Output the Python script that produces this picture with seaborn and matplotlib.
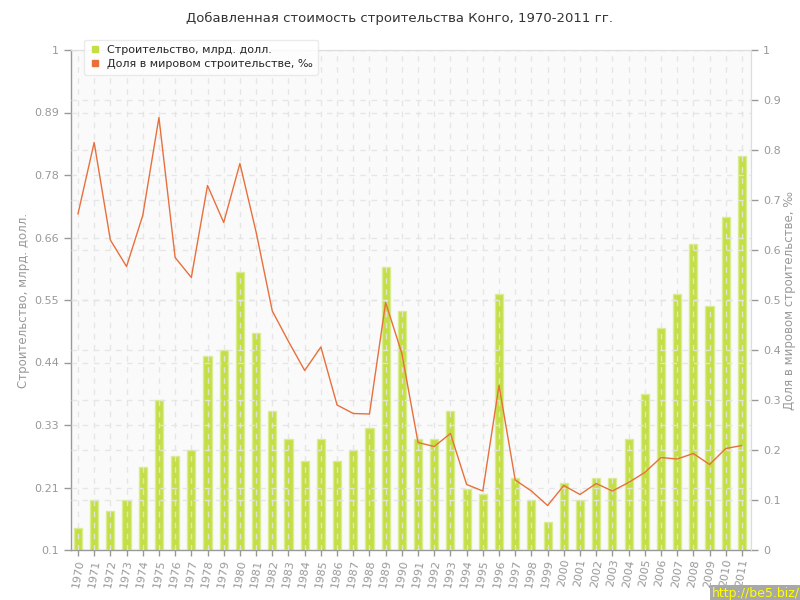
"""
Construction value added, Congo 1970-2011: bars (bn USD) + share line (per mille).
"""

import numpy as np
import pandas as pd
import matplotlib
matplotlib.use("Agg")
import matplotlib.pyplot as plt
from matplotlib.lines import Line2D
import seaborn as sns

years = list(range(1970, 2012))

construction = [0.14, 0.19, 0.17, 0.19, 0.25, 0.37, 0.27, 0.28, 0.45, 0.46,
                0.60, 0.49, 0.35, 0.30, 0.26, 0.30, 0.26, 0.28, 0.32, 0.61,
                0.53, 0.30, 0.30, 0.35, 0.21, 0.20, 0.56, 0.23, 0.19, 0.15,
                0.22, 0.19, 0.23, 0.23, 0.30, 0.38, 0.50, 0.56, 0.65, 0.54,
                0.70, 0.81]

share = [0.672, 0.815, 0.620, 0.567, 0.669, 0.865, 0.585, 0.545, 0.729, 0.655,
         0.773, 0.636, 0.478, 0.417, 0.359, 0.406, 0.290, 0.273, 0.272, 0.495,
         0.393, 0.215, 0.207, 0.233, 0.131, 0.118, 0.329, 0.140, 0.118, 0.089,
         0.129, 0.111, 0.133, 0.118, 0.135, 0.155, 0.185, 0.182, 0.193, 0.171,
         0.203, 0.209]

left_ticks = [0.1, 0.2125, 0.325, 0.4375, 0.55, 0.6625, 0.775, 0.8875, 1.0]
left_labels = ['0.1', '0.21', '0.33', '0.44', '0.55', '0.66', '0.78', '0.89', '1']
right_ticks = [0, 0.1, 0.2, 0.3, 0.4, 0.5, 0.6, 0.7, 0.8, 0.9, 1.0]
right_labels = ['0', '0.1', '0.2', '0.3', '0.4', '0.5', '0.6', '0.7', '0.8', '0.9', '1']

title = 'Добавленная стоимость строительства Конго, 1970-2011 гг.'
bar_label = 'Строительство, млрд. долл.'
line_label = 'Доля в мировом строительстве, ‰'

BAR_COLOR = '#c3df45'
LINE_COLOR = '#e8703c'
GRAY = '#999999'

df = pd.DataFrame({'year': years, 'construction': construction, 'share': share})

sns.set_style('white')
plt.rcParams['font.family'] = ['DejaVu Sans']

fig = plt.figure(figsize=(8, 6), dpi=100)
ax = fig.add_axes([71 / 800, 50 / 600, 680 / 800, 500 / 600])
ax.set_facecolor('#fafafa')

sns.barplot(data=df, x='year', y='construction', native_scale=True,
            color=BAR_COLOR, width=0.5, edgecolor='#d8ec90', linewidth=1,
            saturation=1, ax=ax, zorder=1)

ax.set_xlim(1969.57, 2011.56)
ax.set_ylim(0.1, 1.0)
ax.set_yticks(left_ticks)
ax.set_yticklabels(left_labels)
ax.set_xticks(years)
ax.set_xticklabels([str(y) for y in years], rotation=80)
ax.set_xlabel('')
ax.set_ylabel(bar_label, color=GRAY, fontsize=8.5, labelpad=3)

# grid drawn over bars, like the original
ax.set_axisbelow(False)
ax.grid(True, axis='both', color='#e4e4e4', linestyle=(0, (4, 4)), linewidth=1, alpha=0.9)

ax.tick_params(axis='y', colors=GRAY, labelsize=8, length=5, width=1, direction='out', left=True)
ax.tick_params(axis='x', colors=GRAY, labelsize=8, length=4, width=1, direction='out', bottom=True, pad=2)
for side in ['left', 'bottom']:
    ax.spines[side].set_color(GRAY)
    ax.spines[side].set_linewidth(1)
for side in ['top', 'right']:
    ax.spines[side].set_color('#dddddd')

ax2 = ax.twinx()
sns.lineplot(data=df, x='year', y='share', color=LINE_COLOR, linewidth=1, ax=ax2)
ax2.set_ylim(0, 1.0)
ax2.set_yticks(right_ticks)
ax2.set_yticklabels(right_labels)
ax2.set_ylabel(line_label, color=GRAY, fontsize=8.5, labelpad=2)
ax2.grid(True, axis='y', color='#e4e4e4', linestyle=(0, (4, 4)), linewidth=1, alpha=0.9)
ax2.set_axisbelow(True)
ax2.tick_params(axis='y', colors=GRAY, labelsize=8, length=5, width=1, direction='out', right=True)
for side in ['top', 'right']:
    ax2.spines[side].set_color('#dddddd')
ax2.spines['left'].set_visible(False)
ax2.spines['bottom'].set_visible(False)

fig.text(0.5, 1 - 18 / 600, title, ha='center', va='center', fontsize=9.5, color='#333333')

handles = [Line2D([], [], marker='s', color='none', markerfacecolor=BAR_COLOR,
                  markeredgecolor=BAR_COLOR, markersize=5),
           Line2D([], [], marker='s', color='none', markerfacecolor=LINE_COLOR,
                  markeredgecolor=LINE_COLOR, markersize=5)]
leg = fig.legend(handles, [bar_label, line_label], loc='upper left',
                 bbox_to_anchor=(78 / 800, 1 - 34 / 600), fontsize=8,
                 frameon=True, fancybox=True, shadow=False, handlelength=1,
                 handletextpad=0.6, borderpad=0.5, labelspacing=0.35)
leg.get_frame().set_edgecolor('#e6e6e6')
leg.get_frame().set_facecolor('white')
leg.set_zorder(10)

fig.text(1.0, 0.0, 'http://be5.biz/', ha='right', va='bottom', fontsize=9,
         color='#ffff00',
         bbox=dict(boxstyle='square,pad=0.2', facecolor='#a8a8a8', edgecolor='none'))

fig.savefig('out.png', dpi=100)
